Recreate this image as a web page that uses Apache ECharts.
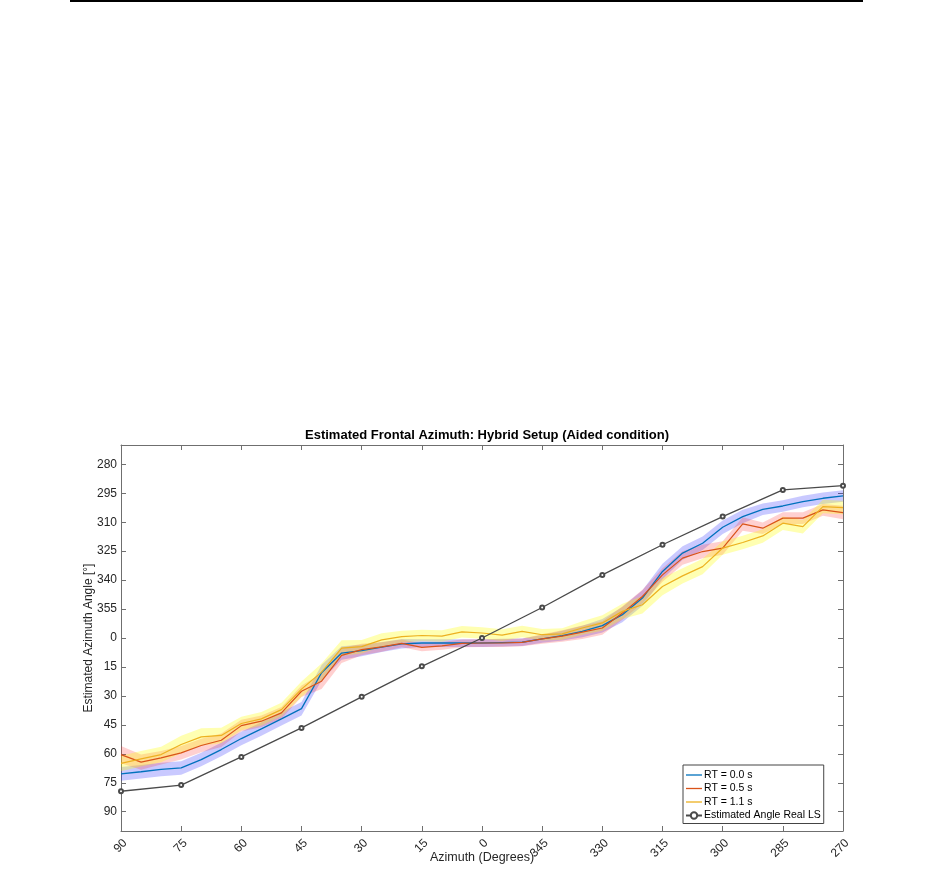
<!DOCTYPE html>
<html>
<head>
<meta charset="utf-8">
<script src="https://cdn.jsdelivr.net/npm/echarts@6/dist/echarts.min.js"></script>
<style>
html,body{margin:0;padding:0;background:#fff;}
#chart{width:932px;height:884px;}
</style>
</head>
<body>
<div id="chart"></div>
<script>
// x positions (internal azimuth, -90..90) for the colored series, 5-degree steps
var azimuth = [-90,-85,-80,-75,-70,-65,-60,-55,-50,-45,-40,-35,-30,-25,-20,-15,-10,-5,0,5,10,15,20,25,30,35,40,45,50,55,60,65,70,75,80,85,90];
var xTickLabels = ['90','75','60','45','30','15','0','345','330','315','300','285','270'];
var yTickLabels = ['280','295','310','325','340','355','0','15','30','45','60','75','90'];

var rt00 = [70.4,69.3,68.1,67.3,63,57.8,52.1,47.1,41.9,36.6,18,7.8,6.5,4.7,3.0,2.6,2.6,2.6,2.6,2.4,2.2,0.5,-1.2,-3.4,-6.4,-12.1,-20.7,-34.5,-44,-49.1,-57.4,-62.9,-66.7,-68.4,-70.7,-72.4,-73.6];
var rt05 = [60.4,64.3,62.1,59.5,55.7,53,45.4,43.1,38.8,27.6,22.4,9,6,4.6,2.8,4.9,4.1,2.8,2.6,2.6,2.3,0.5,-1,-3,-5.2,-12.9,-21.5,-32.7,-41.4,-44.8,-46.6,-59.1,-56.9,-62.1,-62.1,-66.4,-65];
var rt11 = [65,62.6,60.4,55.2,51.2,50.5,44.3,41.9,37.1,26.5,17.7,5.2,4.5,1,-0.7,-1.3,-1,-3.2,-2.6,-1.5,-3.4,-1.7,-2.1,-5.2,-7.8,-13.8,-17.2,-26.7,-32.2,-37,-46.6,-49.5,-52.9,-59.5,-57.7,-68.1,-67.6];

// half widths of shaded bands
var rt00Err = [3.5,3.5,3.5,3.5,3.5,3.5,3.5,3.5,3.5,3.5,4,3.5,3,2.5,2.5,2,2,2,2,2,2,2,2.5,3,3.5,4,4,4,3.5,3.5,3.5,3.5,3,3,3,3,3];
var rt05Err = [4.5,4,3.5,3.5,3.5,3.5,3,3,3,3,4,4,3,2.5,2,2,2,2,2,2,2,2.5,3,3.5,3.5,3.5,3.5,3.5,3.5,3.5,3.5,3.5,3,3,3,3,3.5];
var rt11Err = [4,4,4,4.5,4.5,4,3.5,3.5,3.5,4,4.5,4,3.5,3.5,3,3,3,3,3,3,3,3,3,3.5,4,4,4.5,4.5,4,4,3.5,3.5,3.5,3.5,3.5,3.5,3.5];

var realAzimuth = [-90,-75,-60,-45,-30,-15,0,15,30,45,60,75,90];
var realLS = [79.4,76.2,61.6,46.6,30.5,14.7,0,-15.8,-32.7,-48.3,-62.9,-76.7,-78.9];

var seriesNames = ['RT = 0.0 s','RT = 0.5 s','RT = 1.1 s','Estimated Angle Real LS'];

function pairs(xs, ys){ return xs.map(function(x,i){ return [x, ys[i]]; }); }
function bandSeries(vals, errs, color){
  return {
    type:'custom', silent:true, z:1,
    data:[[azimuth[0], vals[0]]],
    renderItem:function(params, api){
      var pts = [];
      for (var i=0;i<azimuth.length;i++) pts.push(api.coord([azimuth[i], vals[i]+errs[i]]));
      for (var j=azimuth.length-1;j>=0;j--) pts.push(api.coord([azimuth[j], vals[j]-errs[j]]));
      return {type:'polygon', shape:{points:pts}, style:{fill:color, stroke:null}};
    }
  };
}

var font = 'Liberation Sans, Arial, Helvetica, sans-serif';
var yCustom = [-90,-75,-60,-45,-30,-15,0,15,30,45,60,75,90];
var axisCol = '#6f6f6f';
var lineIcon = 'path://M0,0 L32,0 L32,2.6 L0,2.6 Z';

var series = [
  bandSeries(rt00, rt00Err, 'rgba(40,40,255,0.25)'),
  bandSeries(rt05, rt05Err, 'rgba(255,40,40,0.22)'),
  bandSeries(rt11, rt11Err, 'rgba(255,255,0,0.30)'),
  {name:seriesNames[0], type:'line', symbol:'none', data:pairs(azimuth, rt00), lineStyle:{color:'#0072BD', width:1.3}, itemStyle:{color:'#0072BD'}, z:3},
  {name:seriesNames[1], type:'line', symbol:'none', data:pairs(azimuth, rt05), lineStyle:{color:'#D95319', width:1.2}, itemStyle:{color:'#D95319'}, z:3},
  {name:seriesNames[2], type:'line', symbol:'none', data:pairs(azimuth, rt11), lineStyle:{color:'#EDB120', width:1.2}, itemStyle:{color:'#EDB120'}, z:3},
  {name:seriesNames[3], type:'line', symbol:'emptyCircle', symbolSize:4, data:pairs(realAzimuth, realLS), lineStyle:{color:'#4a4a4a', width:1.3}, itemStyle:{color:'#4a4a4a', borderWidth:1}, z:4}
];

var chart = echarts.init(document.getElementById('chart'), null, {renderer:'canvas'});
chart.setOption({
  animation:false,
  backgroundColor:'#ffffff',
  title:{
    text:'Estimated Frontal Azimuth: Hybrid Setup (Aided condition)',
    left:482, top:424, textAlign:'center',
    textStyle:{fontFamily:font, fontSize:13, fontWeight:'bold', color:'#000'}
  },
  grid:{left:121, top:445, right:89, bottom:53, containLabel:false},
  legend:{
    data:[
      {name:seriesNames[0], icon:lineIcon},
      {name:seriesNames[1], icon:lineIcon},
      {name:seriesNames[2], icon:lineIcon},
      {name:seriesNames[3]}
    ],
    orient:'vertical',
    left:683, top:765,
    itemWidth:16, itemHeight:8, itemGap:1.5,
    padding:[4,3,2,2],
    borderColor:'#444', borderWidth:1, backgroundColor:'#fff',
    textStyle:{fontFamily:font, fontSize:10.5, lineHeight:12, color:'#000', padding:[0,0,0,-3]}
  },
  xAxis:[{
    type:'value', min:-90, max:90, interval:15,
    name:'Azimuth (Degrees)', nameLocation:'middle', nameGap:20, nameMoveOverlap:false,
    nameTextStyle:{fontFamily:font, fontSize:12.5, color:'#262626'},
    axisLine:{show:true, onZero:false, lineStyle:{color:axisCol, width:1}},
    axisTick:{show:true, inside:true, length:5, lineStyle:{color:axisCol}},
    axisLabel:{rotate:45, margin:6, verticalAlign:'top', fontFamily:font, fontSize:12, color:'#262626',
      formatter:function(v){ var i=Math.round((v+90)/15); return xTickLabels[i]; }},
    splitLine:{show:false}
  },{
    type:'value', min:-90, max:90, interval:15, position:'top',
    axisLine:{show:true, onZero:false, lineStyle:{color:axisCol, width:1}},
    axisTick:{show:true, inside:true, length:5, lineStyle:{color:axisCol}},
    axisLabel:{show:false}, splitLine:{show:false}
  }],
  yAxis:[{
    type:'value', min:-100, max:100, inverse:true,
    name:'Estimated Azimuth Angle [°]', nameLocation:'middle', nameGap:26, nameMoveOverlap:false,
    nameTextStyle:{fontFamily:font, fontSize:12, color:'#262626'},
    axisLine:{show:true, onZero:false, lineStyle:{color:axisCol, width:1}},
    axisTick:{show:true, inside:true, length:5, customValues:yCustom, lineStyle:{color:axisCol}},
    axisLabel:{margin:4, fontFamily:font, fontSize:12, color:'#262626', customValues:yCustom,
      formatter:function(v){ var i=Math.round((v+90)/15); return yTickLabels[i]; }},
    splitLine:{show:false}
  },{
    type:'value', min:-100, max:100, inverse:true, position:'right',
    axisLine:{show:true, onZero:false, lineStyle:{color:axisCol, width:1}},
    axisTick:{show:true, inside:true, length:5, customValues:yCustom, lineStyle:{color:axisCol}},
    axisLabel:{show:false}, splitLine:{show:false}
  }],
  graphic:[{
    type:'line', shape:{x1:70, y1:1, x2:863, y2:1}, style:{stroke:'#000', lineWidth:2}
  }],
  series:series
});
</script>
</body>
</html>
